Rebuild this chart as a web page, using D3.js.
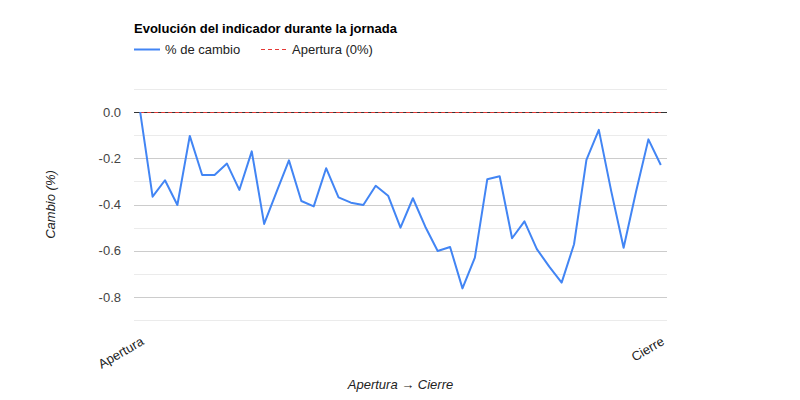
<!DOCTYPE html>
<html>
<head>
<meta charset="utf-8">
<script src="https://cdn.jsdelivr.net/npm/d3@7"></script>
<style>
  html, body { margin: 0; padding: 0; background: #fff; }
  svg { display: block; font-family: Arial, "Liberation Sans", sans-serif; }
</style>
</head>
<body>
<svg id="chart" width="800" height="400"></svg>
<script>
// --- DATA ---
const cambio = [
  0.0, -0.366, -0.295, -0.402, -0.103, -0.272, -0.272, -0.223, -0.337, -0.170,
  -0.484, -0.345, -0.209, -0.385, -0.408, -0.243, -0.369, -0.392, -0.402, -0.319,
  -0.362, -0.500, -0.373, -0.496, -0.601, -0.584, -0.763, -0.630, -0.291, -0.278,
  -0.546, -0.473, -0.593, -0.669, -0.738, -0.572, -0.207, -0.077, -0.342, -0.587,
  -0.345, -0.118, -0.229
];
const apertura = 0;                       // reference level, 0%
const tickLabels = ["Apertura", "Cierre"]; // first and last category
const yTicks = [-0.8, -0.6, -0.4, -0.2, 0.0];
const yMinorTicks = [-0.9, -0.7, -0.5, -0.3, -0.1, 0.1];
const series = [
  { name: "% de cambio", color: "#4285f4", width: 2, dash: null },
  { name: "Apertura (0%)", color: "#e53935", width: 1, dash: "4,3" }
];

const svg = d3.select("#chart");
const plot = { left: 134, right: 667, top: 89, bottom: 320 };
const categories = d3.range(cambio.length);

const x = d3.scalePoint()
    .domain(categories)
    .range([plot.left, plot.right])
    .padding(0.5);

const y = d3.scaleLinear()
    .domain([-0.9, 0.1])
    .range([plot.bottom, plot.top]);

const snap = v => Math.round(v) + 0.5;

// gridlines
svg.append("g").selectAll("line")
    .data(yMinorTicks)
    .join("line")
    .attr("x1", plot.left).attr("x2", plot.right)
    .attr("y1", d => snap(y(d))).attr("y2", d => snap(y(d)))
    .attr("stroke", "#ebebeb");

svg.append("g").selectAll("line")
    .data(yTicks.filter(d => d !== 0))
    .join("line")
    .attr("x1", plot.left).attr("x2", plot.right)
    .attr("y1", d => snap(y(d))).attr("y2", d => snap(y(d)))
    .attr("stroke", "#cccccc");

// y axis labels
const yAxis = svg.append("g")
    .attr("transform", `translate(${plot.left},0)`)
    .call(d3.axisLeft(y).tickValues(yTicks).tickSize(0).tickPadding(13).tickFormat(d => d.toFixed(1)));
yAxis.select(".domain").remove();
yAxis.selectAll("text")
    .attr("fill", "#444")
    .style("font-size", "13px")
    .style("font-family", "Arial, 'Liberation Sans', sans-serif");

// baseline at 0
svg.append("line")
    .attr("x1", plot.left).attr("x2", plot.right)
    .attr("y1", snap(y(0))).attr("y2", snap(y(0)))
    .attr("stroke", "#333");

// reference series (Apertura)
const first = categories[0], last = categories[categories.length - 1];
svg.append("line")
    .attr("x1", x(first)).attr("x2", x(last))
    .attr("y1", snap(y(apertura))).attr("y2", snap(y(apertura)))
    .attr("stroke", series[1].color)
    .attr("stroke-width", series[1].width)
    .attr("stroke-dasharray", series[1].dash);

// main series
const line = d3.line()
    .x((d, i) => x(categories[i]))
    .y(d => y(d));

svg.append("path")
    .datum(cambio)
    .attr("fill", "none")
    .attr("stroke", series[0].color)
    .attr("stroke-width", series[0].width)
    .attr("stroke-linejoin", "round")
    .attr("d", line);

// x labels, rotated
svg.append("g").selectAll("text")
    .data([first, last])
    .join("text")
    .attr("transform", d => `translate(${x(d) + 4.5},344) rotate(-30)`)
    .attr("text-anchor", "end")
    .attr("fill", "#222")
    .style("font-size", "13px")
    .text((d, i) => tickLabels[i]);

// axis titles
svg.append("text")
    .attr("x", (plot.left + plot.right) / 2).attr("y", 389)
    .attr("text-anchor", "middle")
    .attr("fill", "#222")
    .style("font-size", "13px")
    .style("font-style", "italic")
    .text("Apertura \u2192 Cierre");

svg.append("text")
    .attr("transform", `translate(55,${(plot.top + plot.bottom) / 2}) rotate(-90)`)
    .attr("text-anchor", "middle")
    .attr("fill", "#222")
    .style("font-size", "13px")
    .style("font-style", "italic")
    .text("Cambio (%)");

// title
svg.append("text")
    .attr("x", plot.left).attr("y", 33)
    .attr("fill", "#000")
    .style("font-size", "13px")
    .style("font-weight", "bold")
    .text("Evolución del indicador durante la jornada");

// legend
const legendX = [134, 261];
const legend = svg.append("g").selectAll("g")
    .data(series)
    .join("g")
    .attr("transform", (d, i) => `translate(${legendX[i]},49)`);

legend.append("line")
    .attr("x1", 0).attr("x2", 26)
    .attr("y1", 0.5).attr("y2", 0.5)
    .attr("stroke", d => d.color)
    .attr("stroke-width", d => d.width)
    .attr("stroke-dasharray", d => d.dash);

legend.append("text")
    .attr("x", 31).attr("y", 5)
    .attr("fill", "#222")
    .style("font-size", "13px")
    .text(d => d.name);
</script>
</body>
</html>
